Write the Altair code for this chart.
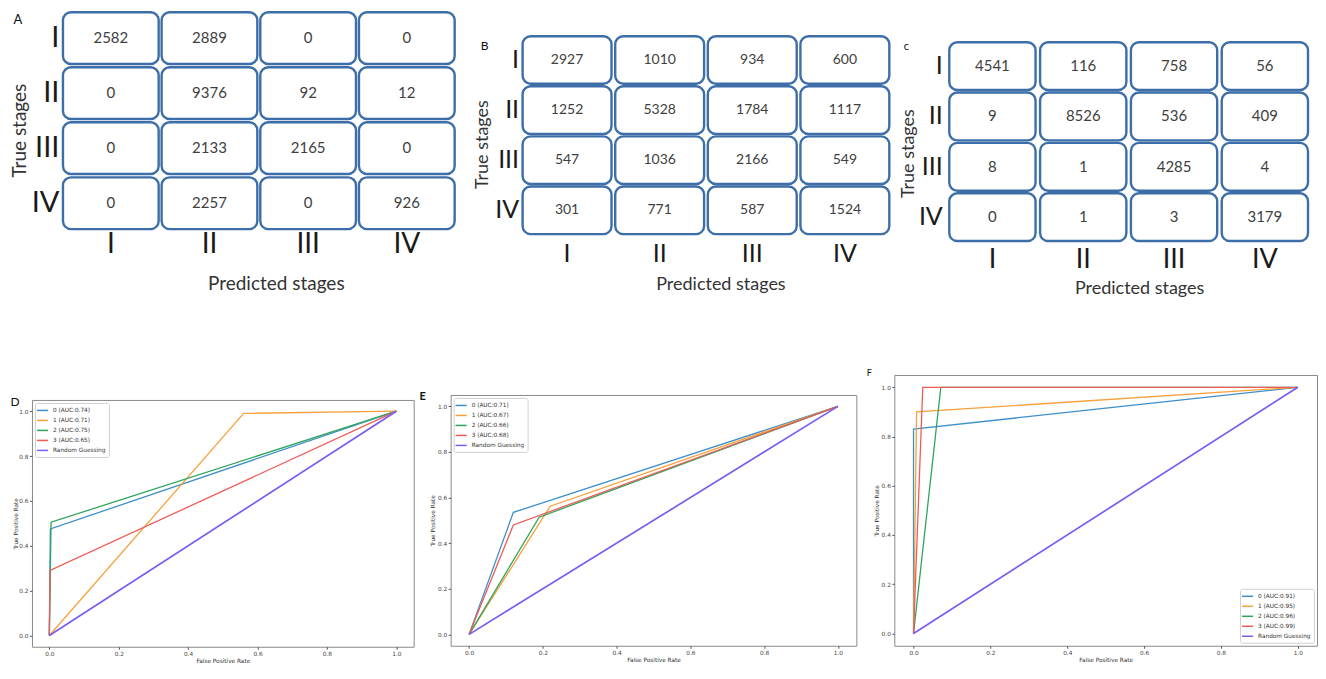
import altair as alt
import pandas as pd

# ---------------- data ----------------
stages = ["I", "II", "III", "IV"]

cm_a = [[2582, 2889, 0, 0],
        [0, 9376, 92, 12],
        [0, 2133, 2165, 0],
        [0, 2257, 0, 926]]
cm_b = [[2927, 1010, 934, 600],
        [1252, 5328, 1784, 1117],
        [547, 1036, 2166, 549],
        [301, 771, 587, 1524]]
cm_c = [[4541, 116, 758, 56],
        [9, 8526, 536, 409],
        [8, 1, 4285, 4],
        [0, 1, 3, 3179]]

# ROC curves: (fpr list, tpr list) per class 0..3
roc_d_fpr = [[0, 0.003, 1], [0, 0.56, 1], [0, 0.005, 1], [0, 0.002, 1]]
roc_d_tpr = [[0, 0.475, 1], [0, 0.99, 1], [0, 0.505, 1], [0, 0.29, 1]]
roc_d_auc = [0.74, 0.71, 0.75, 0.65]

roc_e_fpr = [[0, 0.12, 1], [0, 0.22, 1], [0, 0.19, 1], [0, 0.12, 1]]
roc_e_tpr = [[0, 0.535, 1], [0, 0.562, 1], [0, 0.514, 1], [0, 0.48, 1]]
roc_e_auc = [0.71, 0.67, 0.66, 0.68]

roc_f_fpr = [[0, 0, 1], [0, 0.008, 1], [0, 0.071, 1], [0, 0.024, 1]]
roc_f_tpr = [[0, 0.83, 1], [0, 0.90, 1], [0, 1.0, 1], [0, 1.0, 1]]
roc_f_auc = [0.91, 0.95, 0.96, 0.99]

random_fpr = [0, 1]
random_tpr = [0, 1]

roc_ticks = [0.0, 0.2, 0.4, 0.6, 0.8, 1.0]

# ---------------- styles ----------------
CM_STROKE = "#3d6ea8"
CM_FONT = "Lato"
ROC_FONT = "DejaVu Sans"
ROC_FS = 5.8
LINE_COLORS = ["#3d8fc9", "#f7a13c", "#2fa45c", "#ee5b57", "#7a5cf2"]


def spacer(w, h):
    return alt.Chart(pd.DataFrame({"s": [0]})).mark_point(opacity=0, size=0).properties(width=w, height=h)


def row(*items):
    return alt.concat(*items, columns=len(items), spacing=0, align="none").resolve_scale(color="independent")


def col(*items):
    return alt.concat(*items, columns=1, spacing=0, align="none").resolve_scale(color="independent")


def cm_panel(matrix, letter, w, h, pad_x, pad_y, num_fs, row_fs, col_fs, title_fs, ytitle_fs,
             row_lpad, col_lpad, x_tpad, y_tpad, title_x, title_y, lab_x, lab_y, lab_fs):
    rows = []
    for i, t in enumerate(stages):
        for j, p in enumerate(stages):
            rows.append({"true": t, "pred": p, "value": matrix[i][j]})
    df = pd.DataFrame(rows)
    base = alt.Chart(df).encode(
        x=alt.X("pred:N", sort=stages,
                scale=alt.Scale(paddingInner=pad_x, paddingOuter=0),
                axis=alt.Axis(title="Predicted stages", orient="bottom", labelAngle=0,
                              domain=False, ticks=False, labelFont=CM_FONT, labelFontSize=col_fs,
                              labelFontWeight="normal", labelColor="#1a1a1a", labelPadding=col_lpad,
                              titleFont=CM_FONT, titleFontSize=title_fs, titleFontWeight="normal",
                              titleColor="#333333", titlePadding=x_tpad, titleX=title_x)),
        y=alt.Y("true:N", sort=stages,
                scale=alt.Scale(paddingInner=pad_y, paddingOuter=0),
                axis=alt.Axis(title="True stages", orient="left", labelAngle=0,
                              domain=False, ticks=False, labelFont=CM_FONT, labelFontSize=row_fs,
                              labelFontWeight="normal", labelColor="#1a1a1a", labelPadding=row_lpad,
                              titleFont=CM_FONT, titleFontSize=ytitle_fs, titleFontWeight="normal",
                              titleColor="#333333", titlePadding=y_tpad, titleY=title_y)),
    )
    rect = base.mark_rect(cornerRadius=8, fill="white", stroke=CM_STROKE, strokeWidth=2.4)
    text = base.mark_text(font=CM_FONT, fontSize=num_fs, color="#404040").encode(text="value:Q")
    lab = alt.Chart(pd.DataFrame({"t": [letter]})).mark_text(
        font=CM_FONT, fontSize=lab_fs, color="#111111", align="center", baseline="middle"
    ).encode(text="t:N", x=alt.value(lab_x), y=alt.value(lab_y))
    return alt.layer(rect, text, lab).properties(width=w, height=h)


def roc_panel(fprs, tprs, aucs, letter, w, h, legend_orient, lab_x, lab_y, lab_fs, lab_weight, ytpad):
    rows = []
    labels = []
    for k in range(4):
        name = f"{k} (AUC:{aucs[k]:.2f})"
        labels.append(name)
        for idx, (fx, ty) in enumerate(zip(fprs[k], tprs[k])):
            rows.append({"series": name, "fpr": fx, "tpr": ty, "ord": idx, "w": 1.3})
    labels.append("Random Guessing")
    for idx, (fx, ty) in enumerate(zip(random_fpr, random_tpr)):
        rows.append({"series": "Random Guessing", "fpr": fx, "tpr": ty, "ord": idx, "w": 1.7})
    df = pd.DataFrame(rows)
    axis_common = dict(values=roc_ticks, format=".1f", grid=False, domain=False,
                       tickSize=2.5, tickColor="#555555", labelFont=ROC_FONT, labelFontSize=ROC_FS,
                       labelColor="#444444", titleFont=ROC_FONT, titleFontSize=ROC_FS,
                       titleFontWeight="normal", titleColor="#333333")
    line = alt.Chart(df).mark_line().encode(
        x=alt.X("fpr:Q", scale=alt.Scale(domain=[-0.05, 1.05], nice=False, zero=False),
                axis=alt.Axis(title="False Positive Rate", labelPadding=1, titlePadding=1, **axis_common)),
        y=alt.Y("tpr:Q", scale=alt.Scale(domain=[-0.05, 1.05], nice=False, zero=False),
                axis=alt.Axis(title="True Positive Rate", labelPadding=1.5, titlePadding=ytpad, **axis_common)),
        color=alt.Color("series:N", sort=labels,
                        scale=alt.Scale(domain=labels, range=LINE_COLORS),
                        legend=alt.Legend(title=None, orient=legend_orient, offset=3, padding=3,
                                          fillColor="white", strokeColor="#d0d0d0", cornerRadius=2,
                                          labelFont=ROC_FONT, labelFontSize=ROC_FS, labelColor="#333333",
                                          symbolType="M-1.6,0L1.6,0", symbolSize=49,
                                          symbolStrokeWidth=1.5, rowPadding=2, labelOffset=6)),
        strokeWidth=alt.StrokeWidth("w:Q", scale=None, legend=None),
        order="ord:Q",
    )
    lab = alt.Chart(pd.DataFrame({"t": [letter]})).mark_text(
        font=CM_FONT, fontSize=lab_fs, fontWeight=lab_weight, color="#111111",
        align="center", baseline="middle"
    ).encode(text="t:N", x=alt.value(lab_x), y=alt.value(lab_y))
    return alt.layer(line, lab).properties(
        width=w, height=h, view=alt.ViewBackground(stroke="#8a8a8a", strokeWidth=1)
    )


# ---------------- panels ----------------
pa = cm_panel(cm_a, "A", 392, 217, 0.03, 0.06, 15, 29, 28, 19, 19,
              4, 1, 16, 2, 213, 118, -45, 8, 13)
pb = cm_panel(cm_b, "B", 367, 198, 0.04, 0.05, 14, 25, 25, 18, 18,
              4, 7, 9, 3, 198, 108, -38, 10, 12)
pc = cm_panel(cm_c, "c", 359, 199, 0.05, 0.05, 15, 25, 27, 18, 18,
              7, 5, 7, 1, 190, 111, -43, 5, 11)

pd_ = roc_panel(roc_d_fpr, roc_d_tpr, roc_d_auc, "D", 382, 247, "top-left", -17, 2, 12, "normal", 0.5)
pe = roc_panel(roc_e_fpr, roc_e_tpr, roc_e_auc, "E", 406, 251, "top-left", -28, 2, 11, "bold", 2)
pf = roc_panel(roc_f_fpr, roc_f_tpr, roc_f_auc, "F", 423, 271, "bottom-right", -25, -2, 9, "normal", 2)

# flow layout: each row starts with a tiny spacer so both rows share the same left origin;
# the other spacers set the gaps and vertical offsets of the panels
top_row = row(
    spacer(1, 1),
    col(spacer(1, 2), pa),
    spacer(16, 1),
    col(spacer(1, 26), pb),
    spacer(7, 1),
    col(spacer(1, 32), pc),
)
bottom_row = row(
    spacer(1, 1),
    col(spacer(1, 97), pd_),
    spacer(4, 1),
    col(spacer(1, 92), pe),
    spacer(8, 1),
    col(spacer(1, 70), pf),
)

chart = col(top_row, bottom_row).properties(padding=0).configure_view(stroke="transparent")

chart.save("out.html", embed_options={"renderer": "svg", "actions": False})
